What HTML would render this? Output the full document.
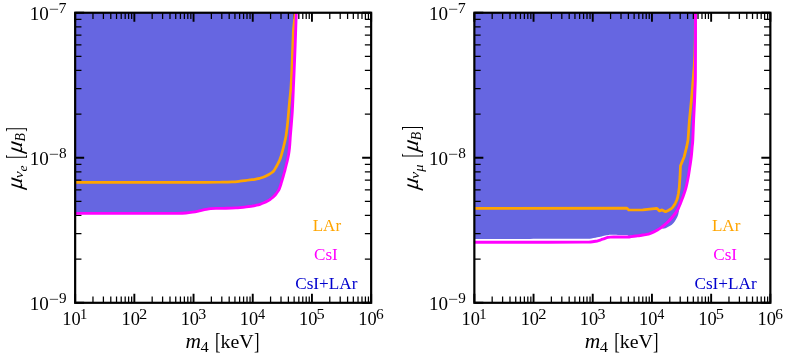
<!DOCTYPE html>
<html><head><meta charset="utf-8"><title>chart</title>
<style>html,body{margin:0;padding:0;background:#fff;}body{width:789px;height:360px;overflow:hidden;position:relative;font-family:"Liberation Serif",serif;}</style>
</head><body>
<svg width="789" height="360" viewBox="0 0 789 360" style="position:absolute;left:0;top:0;will-change:transform;font-family:'Liberation Serif',serif">
<rect width="789" height="360" fill="#fff"/>
<path d="M75.15 12.75 L75.10 213.40 C82.58 213.40 105.02 213.41 120.00 213.40 C134.98 213.39 155.67 213.37 165.00 213.35 C174.33 213.33 172.50 213.36 176.00 213.30 C179.50 213.24 183.22 213.18 186.00 213.00 C188.78 212.82 190.48 212.55 192.70 212.20 C194.92 211.85 197.08 211.37 199.30 210.90 C201.52 210.43 204.10 209.78 206.00 209.40 C207.90 209.02 209.03 208.78 210.70 208.60 C212.37 208.42 213.78 208.35 216.00 208.30 C218.22 208.25 220.67 208.37 224.00 208.30 C227.33 208.23 231.88 208.20 236.00 207.90 C240.12 207.60 245.95 206.82 248.70 206.50 C251.45 206.18 251.28 206.20 252.50 206.00 C253.72 205.80 254.75 205.58 256.00 205.30 C257.25 205.02 258.67 204.72 260.00 204.30 C261.33 203.88 262.67 203.38 264.00 202.80 C265.33 202.22 267.00 201.35 268.00 200.80 C269.00 200.25 269.33 199.97 270.00 199.50 C270.67 199.03 271.33 198.55 272.00 198.00 C272.67 197.45 273.33 196.87 274.00 196.20 C274.67 195.53 275.40 194.73 276.00 194.00 C276.60 193.27 277.10 192.55 277.60 191.80 C278.10 191.05 278.60 190.30 279.00 189.50 C279.40 188.70 279.67 187.92 280.00 187.00 C280.33 186.08 280.67 185.08 281.00 184.00 C281.33 182.92 281.63 181.75 282.00 180.50 C282.37 179.25 282.78 177.92 283.20 176.50 C283.62 175.08 284.12 173.42 284.50 172.00 C284.88 170.58 285.17 169.33 285.50 168.00 C285.83 166.67 286.17 165.33 286.50 164.00 C286.83 162.67 287.13 161.67 287.50 160.00 C287.87 158.33 288.37 156.00 288.70 154.00 C289.03 152.00 289.28 150.00 289.50 148.00 C289.72 146.00 289.85 144.00 290.00 142.00 C290.15 140.00 290.17 139.00 290.40 136.00 C290.63 133.00 291.08 128.00 291.40 124.00 C291.72 120.00 292.03 116.33 292.30 112.00 C292.57 107.67 292.82 102.00 293.00 98.00 C293.18 94.00 293.23 91.83 293.40 88.00 C293.57 84.17 293.70 82.17 294.00 75.00 C294.30 67.83 294.82 55.38 295.20 45.00 C295.58 34.62 296.12 18.08 296.30 12.70 L296.3 12.75 Z" fill="#6666e1"/>
<path d="M474.3 12.75 L474.30 238.90 C483.58 238.90 511.88 238.91 530.00 238.90 C548.12 238.89 573.33 238.88 583.00 238.85 C592.67 238.82 586.58 238.77 588.00 238.70 C589.42 238.62 590.25 238.55 591.50 238.40 C592.75 238.25 594.25 238.02 595.50 237.80 C596.75 237.58 597.97 237.33 599.00 237.10 C600.03 236.87 600.83 236.62 601.70 236.40 C602.57 236.18 603.42 235.98 604.20 235.80 C604.98 235.62 605.65 235.44 606.40 235.30 C607.15 235.16 607.93 235.03 608.70 234.95 C609.47 234.87 609.45 234.81 611.00 234.80 C612.55 234.79 615.28 234.85 618.00 234.90 C620.72 234.95 625.75 235.07 627.30 235.10 L628.70 236.00 C630.28 235.93 635.17 235.87 638.20 235.60 C641.23 235.33 644.28 235.02 646.90 234.40 C649.52 233.78 651.58 232.83 653.90 231.90 C656.22 230.97 659.08 229.35 660.80 228.80 C662.52 228.25 663.17 228.82 664.20 228.60 C665.23 228.38 665.93 228.00 667.00 227.50 C668.07 227.00 669.63 226.22 670.60 225.60 C671.57 224.98 672.12 224.49 672.80 223.80 C673.48 223.11 674.13 222.23 674.70 221.45 C675.27 220.67 675.73 219.92 676.20 219.10 C676.67 218.28 677.13 217.40 677.50 216.50 C677.87 215.60 678.15 214.65 678.40 213.70 C678.65 212.75 678.72 212.20 679.00 210.80 C679.28 209.40 679.55 207.33 680.10 205.30 C680.65 203.27 681.35 201.43 682.30 198.60 C683.25 195.77 684.80 191.95 685.80 188.30 C686.80 184.65 687.60 180.45 688.30 176.70 C689.00 172.95 689.50 169.13 690.00 165.80 C690.50 162.47 690.93 159.88 691.30 156.70 C691.67 153.52 691.95 149.48 692.20 146.70 C692.45 143.92 692.57 144.43 692.80 140.00 C693.03 135.57 693.32 126.42 693.60 120.10 C693.88 113.78 694.23 108.12 694.50 102.10 C694.77 96.08 695.05 88.52 695.20 84.00 C695.35 79.48 695.35 86.88 695.40 75.00 C695.45 63.12 695.48 23.08 695.50 12.70 L695.5 12.75 Z" fill="#6666e1"/>
<g stroke="#000" fill="none">
<path d="M75.15 302.8 v-9.0 M75.15 12.75 v9.0" stroke-width="1.9"/>
<path d="M92.97 302.8 v-6.3 M92.97 12.75 v6.3" stroke-width="1.25"/>
<path d="M103.40 302.8 v-6.3 M103.40 12.75 v6.3" stroke-width="1.25"/>
<path d="M110.79 302.8 v-6.3 M110.79 12.75 v6.3" stroke-width="1.25"/>
<path d="M116.53 302.8 v-6.3 M116.53 12.75 v6.3" stroke-width="1.25"/>
<path d="M121.22 302.8 v-6.3 M121.22 12.75 v6.3" stroke-width="1.25"/>
<path d="M125.18 302.8 v-6.3 M125.18 12.75 v6.3" stroke-width="1.25"/>
<path d="M128.61 302.8 v-6.3 M128.61 12.75 v6.3" stroke-width="1.25"/>
<path d="M131.64 302.8 v-6.3 M131.64 12.75 v6.3" stroke-width="1.25"/>
<path d="M134.35 302.8 v-9.0 M134.35 12.75 v9.0" stroke-width="1.9"/>
<path d="M152.17 302.8 v-6.3 M152.17 12.75 v6.3" stroke-width="1.25"/>
<path d="M162.60 302.8 v-6.3 M162.60 12.75 v6.3" stroke-width="1.25"/>
<path d="M169.99 302.8 v-6.3 M169.99 12.75 v6.3" stroke-width="1.25"/>
<path d="M175.73 302.8 v-6.3 M175.73 12.75 v6.3" stroke-width="1.25"/>
<path d="M180.42 302.8 v-6.3 M180.42 12.75 v6.3" stroke-width="1.25"/>
<path d="M184.38 302.8 v-6.3 M184.38 12.75 v6.3" stroke-width="1.25"/>
<path d="M187.81 302.8 v-6.3 M187.81 12.75 v6.3" stroke-width="1.25"/>
<path d="M190.84 302.8 v-6.3 M190.84 12.75 v6.3" stroke-width="1.25"/>
<path d="M193.55 302.8 v-9.0 M193.55 12.75 v9.0" stroke-width="1.9"/>
<path d="M211.37 302.8 v-6.3 M211.37 12.75 v6.3" stroke-width="1.25"/>
<path d="M221.80 302.8 v-6.3 M221.80 12.75 v6.3" stroke-width="1.25"/>
<path d="M229.19 302.8 v-6.3 M229.19 12.75 v6.3" stroke-width="1.25"/>
<path d="M234.93 302.8 v-6.3 M234.93 12.75 v6.3" stroke-width="1.25"/>
<path d="M239.62 302.8 v-6.3 M239.62 12.75 v6.3" stroke-width="1.25"/>
<path d="M243.58 302.8 v-6.3 M243.58 12.75 v6.3" stroke-width="1.25"/>
<path d="M247.01 302.8 v-6.3 M247.01 12.75 v6.3" stroke-width="1.25"/>
<path d="M250.04 302.8 v-6.3 M250.04 12.75 v6.3" stroke-width="1.25"/>
<path d="M252.75 302.8 v-9.0 M252.75 12.75 v9.0" stroke-width="1.9"/>
<path d="M270.57 302.8 v-6.3 M270.57 12.75 v6.3" stroke-width="1.25"/>
<path d="M281.00 302.8 v-6.3 M281.00 12.75 v6.3" stroke-width="1.25"/>
<path d="M288.39 302.8 v-6.3 M288.39 12.75 v6.3" stroke-width="1.25"/>
<path d="M294.13 302.8 v-6.3 M294.13 12.75 v6.3" stroke-width="1.25"/>
<path d="M298.82 302.8 v-6.3 M298.82 12.75 v6.3" stroke-width="1.25"/>
<path d="M302.78 302.8 v-6.3 M302.78 12.75 v6.3" stroke-width="1.25"/>
<path d="M306.21 302.8 v-6.3 M306.21 12.75 v6.3" stroke-width="1.25"/>
<path d="M309.24 302.8 v-6.3 M309.24 12.75 v6.3" stroke-width="1.25"/>
<path d="M311.95 302.8 v-9.0 M311.95 12.75 v9.0" stroke-width="1.9"/>
<path d="M329.77 302.8 v-6.3 M329.77 12.75 v6.3" stroke-width="1.25"/>
<path d="M340.20 302.8 v-6.3 M340.20 12.75 v6.3" stroke-width="1.25"/>
<path d="M347.59 302.8 v-6.3 M347.59 12.75 v6.3" stroke-width="1.25"/>
<path d="M353.33 302.8 v-6.3 M353.33 12.75 v6.3" stroke-width="1.25"/>
<path d="M358.02 302.8 v-6.3 M358.02 12.75 v6.3" stroke-width="1.25"/>
<path d="M361.98 302.8 v-6.3 M361.98 12.75 v6.3" stroke-width="1.25"/>
<path d="M365.41 302.8 v-6.3 M365.41 12.75 v6.3" stroke-width="1.25"/>
<path d="M368.44 302.8 v-6.3 M368.44 12.75 v6.3" stroke-width="1.25"/>
<path d="M371.15 302.8 v-9.0 M371.15 12.75 v9.0" stroke-width="1.9"/>
<path d="M75.15 302.80 h9.0 M371.15 302.80 h-9.0" stroke-width="1.9"/>
<path d="M75.15 259.14 h6.3 M371.15 259.14 h-6.3" stroke-width="1.25"/>
<path d="M75.15 233.61 h6.3 M371.15 233.61 h-6.3" stroke-width="1.25"/>
<path d="M75.15 215.49 h6.3 M371.15 215.49 h-6.3" stroke-width="1.25"/>
<path d="M75.15 201.43 h6.3 M371.15 201.43 h-6.3" stroke-width="1.25"/>
<path d="M75.15 189.95 h6.3 M371.15 189.95 h-6.3" stroke-width="1.25"/>
<path d="M75.15 180.24 h6.3 M371.15 180.24 h-6.3" stroke-width="1.25"/>
<path d="M75.15 171.83 h6.3 M371.15 171.83 h-6.3" stroke-width="1.25"/>
<path d="M75.15 164.41 h6.3 M371.15 164.41 h-6.3" stroke-width="1.25"/>
<path d="M75.15 157.78 h9.0 M371.15 157.78 h-9.0" stroke-width="1.9"/>
<path d="M75.15 114.12 h6.3 M371.15 114.12 h-6.3" stroke-width="1.25"/>
<path d="M75.15 88.58 h6.3 M371.15 88.58 h-6.3" stroke-width="1.25"/>
<path d="M75.15 70.46 h6.3 M371.15 70.46 h-6.3" stroke-width="1.25"/>
<path d="M75.15 56.41 h6.3 M371.15 56.41 h-6.3" stroke-width="1.25"/>
<path d="M75.15 44.92 h6.3 M371.15 44.92 h-6.3" stroke-width="1.25"/>
<path d="M75.15 35.21 h6.3 M371.15 35.21 h-6.3" stroke-width="1.25"/>
<path d="M75.15 26.80 h6.3 M371.15 26.80 h-6.3" stroke-width="1.25"/>
<path d="M75.15 19.39 h6.3 M371.15 19.39 h-6.3" stroke-width="1.25"/>
<path d="M75.15 12.75 h9.0 M371.15 12.75 h-9.0" stroke-width="1.9"/>
<path d="M474.35 302.8 v-9.0 M474.35 12.75 v9.0" stroke-width="1.9"/>
<path d="M492.17 302.8 v-6.3 M492.17 12.75 v6.3" stroke-width="1.25"/>
<path d="M502.60 302.8 v-6.3 M502.60 12.75 v6.3" stroke-width="1.25"/>
<path d="M509.99 302.8 v-6.3 M509.99 12.75 v6.3" stroke-width="1.25"/>
<path d="M515.73 302.8 v-6.3 M515.73 12.75 v6.3" stroke-width="1.25"/>
<path d="M520.42 302.8 v-6.3 M520.42 12.75 v6.3" stroke-width="1.25"/>
<path d="M524.38 302.8 v-6.3 M524.38 12.75 v6.3" stroke-width="1.25"/>
<path d="M527.81 302.8 v-6.3 M527.81 12.75 v6.3" stroke-width="1.25"/>
<path d="M530.84 302.8 v-6.3 M530.84 12.75 v6.3" stroke-width="1.25"/>
<path d="M533.55 302.8 v-9.0 M533.55 12.75 v9.0" stroke-width="1.9"/>
<path d="M551.37 302.8 v-6.3 M551.37 12.75 v6.3" stroke-width="1.25"/>
<path d="M561.80 302.8 v-6.3 M561.80 12.75 v6.3" stroke-width="1.25"/>
<path d="M569.19 302.8 v-6.3 M569.19 12.75 v6.3" stroke-width="1.25"/>
<path d="M574.93 302.8 v-6.3 M574.93 12.75 v6.3" stroke-width="1.25"/>
<path d="M579.62 302.8 v-6.3 M579.62 12.75 v6.3" stroke-width="1.25"/>
<path d="M583.58 302.8 v-6.3 M583.58 12.75 v6.3" stroke-width="1.25"/>
<path d="M587.01 302.8 v-6.3 M587.01 12.75 v6.3" stroke-width="1.25"/>
<path d="M590.04 302.8 v-6.3 M590.04 12.75 v6.3" stroke-width="1.25"/>
<path d="M592.75 302.8 v-9.0 M592.75 12.75 v9.0" stroke-width="1.9"/>
<path d="M610.57 302.8 v-6.3 M610.57 12.75 v6.3" stroke-width="1.25"/>
<path d="M621.00 302.8 v-6.3 M621.00 12.75 v6.3" stroke-width="1.25"/>
<path d="M628.39 302.8 v-6.3 M628.39 12.75 v6.3" stroke-width="1.25"/>
<path d="M634.13 302.8 v-6.3 M634.13 12.75 v6.3" stroke-width="1.25"/>
<path d="M638.82 302.8 v-6.3 M638.82 12.75 v6.3" stroke-width="1.25"/>
<path d="M642.78 302.8 v-6.3 M642.78 12.75 v6.3" stroke-width="1.25"/>
<path d="M646.21 302.8 v-6.3 M646.21 12.75 v6.3" stroke-width="1.25"/>
<path d="M649.24 302.8 v-6.3 M649.24 12.75 v6.3" stroke-width="1.25"/>
<path d="M651.95 302.8 v-9.0 M651.95 12.75 v9.0" stroke-width="1.9"/>
<path d="M669.77 302.8 v-6.3 M669.77 12.75 v6.3" stroke-width="1.25"/>
<path d="M680.20 302.8 v-6.3 M680.20 12.75 v6.3" stroke-width="1.25"/>
<path d="M687.59 302.8 v-6.3 M687.59 12.75 v6.3" stroke-width="1.25"/>
<path d="M693.33 302.8 v-6.3 M693.33 12.75 v6.3" stroke-width="1.25"/>
<path d="M698.02 302.8 v-6.3 M698.02 12.75 v6.3" stroke-width="1.25"/>
<path d="M701.98 302.8 v-6.3 M701.98 12.75 v6.3" stroke-width="1.25"/>
<path d="M705.41 302.8 v-6.3 M705.41 12.75 v6.3" stroke-width="1.25"/>
<path d="M708.44 302.8 v-6.3 M708.44 12.75 v6.3" stroke-width="1.25"/>
<path d="M711.15 302.8 v-9.0 M711.15 12.75 v9.0" stroke-width="1.9"/>
<path d="M728.97 302.8 v-6.3 M728.97 12.75 v6.3" stroke-width="1.25"/>
<path d="M739.40 302.8 v-6.3 M739.40 12.75 v6.3" stroke-width="1.25"/>
<path d="M746.79 302.8 v-6.3 M746.79 12.75 v6.3" stroke-width="1.25"/>
<path d="M752.53 302.8 v-6.3 M752.53 12.75 v6.3" stroke-width="1.25"/>
<path d="M757.22 302.8 v-6.3 M757.22 12.75 v6.3" stroke-width="1.25"/>
<path d="M761.18 302.8 v-6.3 M761.18 12.75 v6.3" stroke-width="1.25"/>
<path d="M764.61 302.8 v-6.3 M764.61 12.75 v6.3" stroke-width="1.25"/>
<path d="M767.64 302.8 v-6.3 M767.64 12.75 v6.3" stroke-width="1.25"/>
<path d="M770.35 302.8 v-9.0 M770.35 12.75 v9.0" stroke-width="1.9"/>
<path d="M474.35 302.80 h9.0 M770.35 302.80 h-9.0" stroke-width="1.9"/>
<path d="M474.35 259.14 h6.3 M770.35 259.14 h-6.3" stroke-width="1.25"/>
<path d="M474.35 233.61 h6.3 M770.35 233.61 h-6.3" stroke-width="1.25"/>
<path d="M474.35 215.49 h6.3 M770.35 215.49 h-6.3" stroke-width="1.25"/>
<path d="M474.35 201.43 h6.3 M770.35 201.43 h-6.3" stroke-width="1.25"/>
<path d="M474.35 189.95 h6.3 M770.35 189.95 h-6.3" stroke-width="1.25"/>
<path d="M474.35 180.24 h6.3 M770.35 180.24 h-6.3" stroke-width="1.25"/>
<path d="M474.35 171.83 h6.3 M770.35 171.83 h-6.3" stroke-width="1.25"/>
<path d="M474.35 164.41 h6.3 M770.35 164.41 h-6.3" stroke-width="1.25"/>
<path d="M474.35 157.78 h9.0 M770.35 157.78 h-9.0" stroke-width="1.9"/>
<path d="M474.35 114.12 h6.3 M770.35 114.12 h-6.3" stroke-width="1.25"/>
<path d="M474.35 88.58 h6.3 M770.35 88.58 h-6.3" stroke-width="1.25"/>
<path d="M474.35 70.46 h6.3 M770.35 70.46 h-6.3" stroke-width="1.25"/>
<path d="M474.35 56.41 h6.3 M770.35 56.41 h-6.3" stroke-width="1.25"/>
<path d="M474.35 44.92 h6.3 M770.35 44.92 h-6.3" stroke-width="1.25"/>
<path d="M474.35 35.21 h6.3 M770.35 35.21 h-6.3" stroke-width="1.25"/>
<path d="M474.35 26.80 h6.3 M770.35 26.80 h-6.3" stroke-width="1.25"/>
<path d="M474.35 19.39 h6.3 M770.35 19.39 h-6.3" stroke-width="1.25"/>
<path d="M474.35 12.75 h9.0 M770.35 12.75 h-9.0" stroke-width="1.9"/>
</g>
<g fill="none" stroke-linejoin="round">
<path d="M75.10 182.40 C85.92 182.40 118.35 182.40 140.00 182.40 C161.65 182.40 191.33 182.43 205.00 182.40 C218.67 182.37 217.50 182.28 222.00 182.20 C226.50 182.12 229.00 182.07 232.00 181.90 C235.00 181.73 237.83 181.42 240.00 181.20 C242.17 180.98 243.33 180.82 245.00 180.60 C246.67 180.38 248.33 180.12 250.00 179.90 C251.67 179.68 253.33 179.58 255.00 179.30 C256.67 179.02 258.75 178.50 260.00 178.20 C261.25 177.90 261.67 177.78 262.50 177.50 C263.33 177.22 264.17 176.87 265.00 176.50 C265.83 176.13 266.67 175.75 267.50 175.30 C268.33 174.85 269.25 174.27 270.00 173.80 C270.75 173.33 271.40 172.93 272.00 172.50 C272.60 172.07 273.07 171.85 273.60 171.20 C274.13 170.55 274.68 169.47 275.20 168.60 C275.72 167.73 276.20 166.90 276.70 166.00 C277.20 165.10 277.70 164.20 278.20 163.20 C278.70 162.20 279.27 161.03 279.70 160.00 C280.13 158.97 280.47 158.00 280.80 157.00 C281.13 156.00 281.42 155.00 281.70 154.00 C281.98 153.00 282.23 152.00 282.50 151.00 C282.77 150.00 282.93 149.50 283.30 148.00 C283.67 146.50 284.25 144.00 284.70 142.00 C285.15 140.00 285.55 138.83 286.00 136.00 C286.45 133.17 286.98 128.83 287.40 125.00 C287.82 121.17 288.12 117.17 288.50 113.00 C288.88 108.83 289.30 104.17 289.70 100.00 C290.10 95.83 290.58 92.17 290.90 88.00 C291.22 83.83 291.35 80.50 291.60 75.00 C291.85 69.50 292.13 61.83 292.40 55.00 C292.67 48.17 293.02 38.33 293.20 34.00 C293.38 29.67 293.32 31.00 293.50 29.00 C293.68 27.00 294.02 24.72 294.30 22.00 C294.58 19.28 295.05 14.25 295.20 12.70" stroke="#ffa500" stroke-width="2.7"/>
<path d="M75.10 213.40 C82.58 213.40 105.02 213.41 120.00 213.40 C134.98 213.39 155.67 213.37 165.00 213.35 C174.33 213.33 172.50 213.36 176.00 213.30 C179.50 213.24 183.22 213.18 186.00 213.00 C188.78 212.82 190.48 212.55 192.70 212.20 C194.92 211.85 197.08 211.37 199.30 210.90 C201.52 210.43 204.10 209.78 206.00 209.40 C207.90 209.02 209.03 208.78 210.70 208.60 C212.37 208.42 213.78 208.35 216.00 208.30 C218.22 208.25 220.67 208.37 224.00 208.30 C227.33 208.23 231.88 208.20 236.00 207.90 C240.12 207.60 245.95 206.82 248.70 206.50 C251.45 206.18 251.28 206.20 252.50 206.00 C253.72 205.80 254.75 205.58 256.00 205.30 C257.25 205.02 258.67 204.72 260.00 204.30 C261.33 203.88 262.67 203.38 264.00 202.80 C265.33 202.22 267.00 201.35 268.00 200.80 C269.00 200.25 269.33 199.97 270.00 199.50 C270.67 199.03 271.33 198.55 272.00 198.00 C272.67 197.45 273.33 196.87 274.00 196.20 C274.67 195.53 275.40 194.73 276.00 194.00 C276.60 193.27 277.10 192.55 277.60 191.80 C278.10 191.05 278.60 190.30 279.00 189.50 C279.40 188.70 279.67 187.92 280.00 187.00 C280.33 186.08 280.67 185.08 281.00 184.00 C281.33 182.92 281.63 181.75 282.00 180.50 C282.37 179.25 282.78 177.92 283.20 176.50 C283.62 175.08 284.12 173.42 284.50 172.00 C284.88 170.58 285.17 169.33 285.50 168.00 C285.83 166.67 286.17 165.33 286.50 164.00 C286.83 162.67 287.13 161.67 287.50 160.00 C287.87 158.33 288.37 156.00 288.70 154.00 C289.03 152.00 289.28 150.00 289.50 148.00 C289.72 146.00 289.85 144.00 290.00 142.00 C290.15 140.00 290.17 139.00 290.40 136.00 C290.63 133.00 291.08 128.00 291.40 124.00 C291.72 120.00 292.03 116.33 292.30 112.00 C292.57 107.67 292.82 102.00 293.00 98.00 C293.18 94.00 293.23 91.83 293.40 88.00 C293.57 84.17 293.70 82.17 294.00 75.00 C294.30 67.83 294.82 55.38 295.20 45.00 C295.58 34.62 296.12 18.08 296.30 12.70" stroke="#ff00ff" stroke-width="2.8"/>
<polyline points="474.3,208.3 626.7,208.1 628.8,210.0 642.8,209.8 652.0,208.8 656.7,208.3 657.6,209.1 659.5,210.9 662.0,209.9 665.6,211.7 668.7,210.2 671.2,208.8 672.4,207.6 673.4,206.3 674.4,204.9 675.3,203.3 676.7,200.2 677.6,197.5 678.4,193.5 679.2,188.3 680.0,176.7 680.5,165.8 684.2,156.7 686.7,146.7 688.0,140.0 689.4,120.1 691.2,102.1 692.6,86.0 693.4,76.0 694.2,66.0 694.8,55.0 695.2,40.0 695.4,12.7" stroke="#ffa500" stroke-width="2.75"/>
<path d="M474.30 242.20 C483.58 242.20 511.88 242.21 530.00 242.20 C548.12 242.19 573.17 242.17 583.00 242.15 C592.83 242.13 587.42 242.16 589.00 242.10 C590.58 242.04 591.38 241.94 592.50 241.80 C593.62 241.66 594.70 241.46 595.70 241.25 C596.70 241.04 597.62 240.80 598.50 240.55 C599.38 240.30 600.17 240.03 601.00 239.75 C601.83 239.47 602.72 239.13 603.50 238.85 C604.28 238.57 604.95 238.28 605.70 238.05 C606.45 237.82 607.23 237.61 608.00 237.45 C608.77 237.29 609.30 237.17 610.30 237.10 C611.30 237.03 612.38 237.02 614.00 237.00 C615.62 236.98 617.67 237.00 620.00 237.00 C622.33 237.00 626.12 237.07 628.00 237.00 C629.88 236.93 629.97 236.77 631.30 236.60 C632.63 236.43 634.55 236.18 636.00 236.00 C637.45 235.82 638.83 235.67 640.00 235.50 C641.17 235.33 641.85 235.18 643.00 235.00 C644.15 234.82 645.65 234.68 646.90 234.40 C648.15 234.12 649.33 233.72 650.50 233.30 C651.67 232.88 652.73 232.45 653.90 231.90 C655.07 231.35 656.35 230.67 657.50 230.00 C658.65 229.33 659.67 228.70 660.80 227.90 C661.93 227.10 663.13 226.18 664.30 225.20 C665.47 224.22 666.73 223.03 667.80 222.00 C668.87 220.97 669.78 220.02 670.70 219.00 C671.62 217.98 672.47 216.92 673.30 215.90 C674.13 214.88 674.93 214.02 675.70 212.90 C676.47 211.78 677.18 210.60 677.90 209.20 C678.62 207.80 679.27 206.27 680.00 204.50 C680.73 202.73 681.33 201.30 682.30 198.60 C683.27 195.90 684.80 191.95 685.80 188.30 C686.80 184.65 687.60 180.45 688.30 176.70 C689.00 172.95 689.50 169.13 690.00 165.80 C690.50 162.47 690.93 159.88 691.30 156.70 C691.67 153.52 691.95 149.48 692.20 146.70 C692.45 143.92 692.57 144.43 692.80 140.00 C693.03 135.57 693.32 126.42 693.60 120.10 C693.88 113.78 694.23 108.12 694.50 102.10 C694.77 96.08 695.05 88.52 695.20 84.00 C695.35 79.48 695.35 81.50 695.40 75.00 C695.45 68.50 695.48 55.38 695.50 45.00 C695.52 34.62 695.50 18.08 695.50 12.70" stroke="#ff00ff" stroke-width="2.9"/>
</g>
<rect x="75.15" y="12.75" width="296.00" height="290.05" fill="none" stroke="#000" stroke-width="2.2"/>
<rect x="474.35" y="12.75" width="296.00" height="290.05" fill="none" stroke="#000" stroke-width="2.2"/>
<g fill="#000">
<text transform="translate(62.24,325.10) scale(0.927,1)" font-size="19.85">10</text>
<text transform="translate(79.98,318.90) scale(0.965,1)" font-size="15.00">1</text>
<text transform="translate(121.44,325.10) scale(0.927,1)" font-size="19.85">10</text>
<text transform="translate(139.11,318.90) scale(1.104,1)" font-size="14.94">2</text>
<text transform="translate(180.64,325.10) scale(0.927,1)" font-size="19.85">10</text>
<text transform="translate(198.29,318.90) scale(1.071,1)" font-size="14.94">3</text>
<text transform="translate(239.84,325.10) scale(0.927,1)" font-size="19.85">10</text>
<text transform="translate(257.97,318.90) scale(0.943,1)" font-size="15.06">4</text>
<text transform="translate(299.04,325.10) scale(0.927,1)" font-size="19.85">10</text>
<text transform="translate(316.51,318.90) scale(1.085,1)" font-size="15.11">5</text>
<text transform="translate(358.24,325.10) scale(0.927,1)" font-size="19.85">10</text>
<text transform="translate(375.99,318.90) scale(1.033,1)" font-size="14.94">6</text>
<text transform="translate(29.78,19.85) scale(0.969,1)" font-size="19.70">10</text>
<rect x="49.80" y="8.80" width="8.3" height="0.85" fill="#333"/>
<text transform="translate(58.51,12.95) scale(1.095,1)" font-size="14.66">7</text>
<text transform="translate(29.78,164.88) scale(0.969,1)" font-size="19.70">10</text>
<rect x="49.80" y="153.83" width="8.3" height="0.85" fill="#333"/>
<text transform="translate(58.98,157.97) scale(1.059,1)" font-size="14.44">8</text>
<text transform="translate(29.78,309.90) scale(0.969,1)" font-size="19.70">10</text>
<rect x="49.80" y="298.85" width="8.3" height="0.85" fill="#333"/>
<text transform="translate(59.06,303.00) scale(1.049,1)" font-size="14.49">9</text>
<text transform="translate(461.44,325.10) scale(0.927,1)" font-size="19.85">10</text>
<text transform="translate(479.18,318.90) scale(0.965,1)" font-size="15.00">1</text>
<text transform="translate(520.64,325.10) scale(0.927,1)" font-size="19.85">10</text>
<text transform="translate(538.31,318.90) scale(1.104,1)" font-size="14.94">2</text>
<text transform="translate(579.84,325.10) scale(0.927,1)" font-size="19.85">10</text>
<text transform="translate(597.49,318.90) scale(1.071,1)" font-size="14.94">3</text>
<text transform="translate(639.04,325.10) scale(0.927,1)" font-size="19.85">10</text>
<text transform="translate(657.17,318.90) scale(0.943,1)" font-size="15.06">4</text>
<text transform="translate(698.24,325.10) scale(0.927,1)" font-size="19.85">10</text>
<text transform="translate(715.71,318.90) scale(1.085,1)" font-size="15.11">5</text>
<text transform="translate(757.44,325.10) scale(0.927,1)" font-size="19.85">10</text>
<text transform="translate(775.19,318.90) scale(1.033,1)" font-size="14.94">6</text>
<text transform="translate(428.98,19.85) scale(0.969,1)" font-size="19.70">10</text>
<rect x="449.00" y="8.80" width="8.3" height="0.85" fill="#333"/>
<text transform="translate(457.71,12.95) scale(1.095,1)" font-size="14.66">7</text>
<text transform="translate(428.98,164.88) scale(0.969,1)" font-size="19.70">10</text>
<rect x="449.00" y="153.83" width="8.3" height="0.85" fill="#333"/>
<text transform="translate(458.18,157.97) scale(1.059,1)" font-size="14.44">8</text>
<text transform="translate(428.98,309.90) scale(0.969,1)" font-size="19.70">10</text>
<rect x="449.00" y="298.85" width="8.3" height="0.85" fill="#333"/>
<text transform="translate(458.26,303.00) scale(1.049,1)" font-size="14.49">9</text>
<text transform="translate(185.59,348.10) scale(1.074,1.011)" font-size="20.0" font-style="italic">m</text>
<text transform="translate(200.47,351.60) scale(1.223,1)" font-size="13.54">4</text>
<text transform="translate(214.95,349.46) scale(0.831,1.199)" font-size="20.0">[</text>
<text transform="translate(220.60,348.00) scale(1.016,1)" font-size="19.57">keV</text>
<text transform="translate(253.92,349.46) scale(0.822,1.199)" font-size="20.0">]</text>
<text transform="translate(584.79,348.10) scale(1.074,1.011)" font-size="20.0" font-style="italic">m</text>
<text transform="translate(599.67,351.60) scale(1.223,1)" font-size="13.54">4</text>
<text transform="translate(614.15,349.46) scale(0.831,1.199)" font-size="20.0">[</text>
<text transform="translate(619.80,348.00) scale(1.016,1)" font-size="19.57">keV</text>
<text transform="translate(653.12,349.46) scale(0.822,1.199)" font-size="20.0">]</text>
<g transform="translate(20.50,158.65) rotate(-90)">
<text transform="translate(-30.90,1.23) skewX(-9) scale(1.123,1.156)" font-size="20.0" font-style="italic">μ</text>
<text transform="translate(-19.58,2.37) scale(0.779,0.670)" font-size="20.0" font-style="italic">ν</text>
<text transform="translate(-12.86,6.08) scale(0.675,0.615)" font-size="20.0" font-style="italic">e</text>
<text transform="translate(-0.19,2.85) scale(0.629,1.241)" font-size="20.0">[</text>
<text transform="translate(5.10,1.23) skewX(-9) scale(1.155,1.156)" font-size="20.0" font-style="italic">μ</text>
<text transform="translate(17.26,4.57) scale(0.690,0.692)" font-size="20.0" font-style="italic">B</text>
<text transform="translate(26.98,2.85) scale(0.667,1.241)" font-size="20.0">]</text>
</g>
<g transform="translate(416.60,158.65) rotate(-90)">
<text transform="translate(-31.35,1.23) skewX(-9) scale(1.123,1.156)" font-size="20.0" font-style="italic">μ</text>
<text transform="translate(-20.03,2.37) scale(0.779,0.670)" font-size="20.0" font-style="italic">ν</text>
<text transform="translate(-13.20,6.82) scale(0.717,0.600)" font-size="20.0" font-style="italic">μ</text>
<text transform="translate(1.06,2.85) scale(0.629,1.241)" font-size="20.0">[</text>
<text transform="translate(6.35,1.23) skewX(-9) scale(1.155,1.156)" font-size="20.0" font-style="italic">μ</text>
<text transform="translate(18.51,4.57) scale(0.690,0.692)" font-size="20.0" font-style="italic">B</text>
<text transform="translate(28.23,2.85) scale(0.667,1.241)" font-size="20.0">]</text>
</g>
</g>
<text transform="translate(312.69,230.60) scale(0.980,1)" font-size="17.42" fill="#ffa500">LAr</text>
<text transform="translate(314.01,259.60) scale(0.971,1)" font-size="17.66" fill="#ff00ff">CsI</text>
<text transform="translate(295.21,288.60) scale(0.974,1)" font-size="17.66" fill="#0000cd">CsI+LAr</text>
<text transform="translate(711.89,230.60) scale(0.980,1)" font-size="17.42" fill="#ffa500">LAr</text>
<text transform="translate(713.21,259.60) scale(0.971,1)" font-size="17.66" fill="#ff00ff">CsI</text>
<text transform="translate(694.41,288.60) scale(0.974,1)" font-size="17.66" fill="#0000cd">CsI+LAr</text>
</svg>
</body></html>
